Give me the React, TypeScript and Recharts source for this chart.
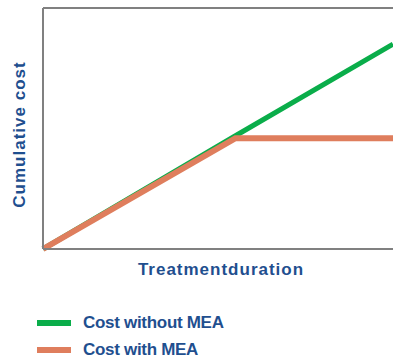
import { LineChart, Line, XAxis, YAxis, ReferenceLine, Legend } from 'recharts'

// treatment duration (arbitrary units) and cumulative cost (arbitrary units)
const duration = [0, 5.5, 10]
const costWithout = [0, 47, 85]
const costWith = [0, 46, 46]

const data = duration.map((d, i) => ({ d, without: costWithout[i], withMea: costWith[i] }))

const TEXT = '#1f4f8f'
const FONT = '"Liberation Sans", Arial, sans-serif'

const legendItems = [
  { label: 'Cost without MEA', color: '#0aad4a' },
  { label: 'Cost with MEA', color: '#df7e5d' },
]

function MyLegend() {
  return (
    <div style={{ height: 62, boxSizing: 'border-box', paddingLeft: 37, paddingTop: 11, fontFamily: FONT }}>
      {legendItems.map((it, i) => (
        <div key={i} style={{ display: 'flex', alignItems: 'center', height: 27 }}>
          <div style={{ width: 34, height: 6, background: it.color }} />
          <span style={{ marginLeft: 12, fontSize: 17, fontWeight: 'bold', letterSpacing: -0.3, color: TEXT }}>{it.label}</span>
        </div>
      ))}
    </div>
  )
}

export default function App() {
  return (
    <div style={{ position: 'absolute', left: 0, top: 0, width: 393, height: 360, background: '#fff' }}>
      <LineChart width={393} height={360} data={data} margin={{ top: 8, right: 0, left: 0, bottom: 0 }}>
        <XAxis
          dataKey="d"
          type="number"
          domain={[0, 10]}
          tick={false}
          tickLine={false}
          height={49}
          stroke="#808080"
          strokeWidth={2}
          label={{ value: 'Treatmentduration', position: 'insideTop', offset: 14, fill: TEXT, fontSize: 17, fontWeight: 'bold', letterSpacing: 1, fontFamily: FONT, dx: 3 }}
        />
        <YAxis
          type="number"
          domain={[0, 100]}
          tick={false}
          tickLine={false}
          width={43}
          stroke="#808080"
          strokeWidth={2}
          label={{ value: 'Cumulative cost', angle: -90, position: 'center', fill: TEXT, fontSize: 17, fontWeight: 'bold', letterSpacing: 1, fontFamily: FONT, dx: -3, dy: 6 }}
        />
        <ReferenceLine y={100} stroke="#808080" strokeWidth={2} />
        <Legend verticalAlign="bottom" content={<MyLegend />} />
        <Line dataKey="without" stroke="#0aad4a" strokeWidth={5} dot={false} isAnimationActive={false} />
        <Line dataKey="withMea" stroke="#df7e5d" strokeWidth={6} dot={false} isAnimationActive={false} />
      </LineChart>
    </div>
  )
}
